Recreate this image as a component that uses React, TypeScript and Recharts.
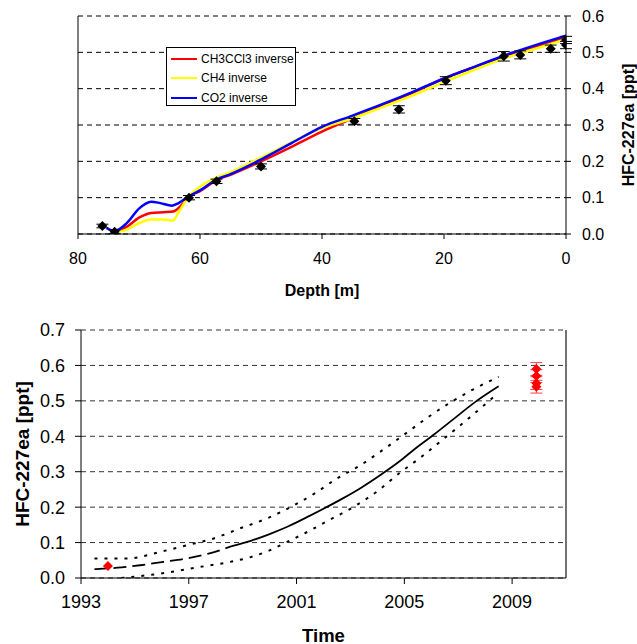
import {
	ComposedChart,
	CartesianGrid,
	ErrorBar,
	Legend,
	Line,
	ReferenceLine,
	Scatter,
	XAxis,
	YAxis,
} from 'recharts';

const FONT = '"Liberation Sans", Arial, sans-serif';

// top panel: firn inversions vs depth
const depthTicks = [0, 20, 40, 60, 80];
const concTicksTop = [0, 0.1, 0.2, 0.3, 0.4, 0.5, 0.6];

const ch3ccl3Line = [
	{ depth: 74, v: 0.006 },
	{ depth: 72, v: 0.02 },
	{ depth: 70, v: 0.045 },
	{ depth: 68, v: 0.058 },
	{ depth: 66, v: 0.06 },
	{ depth: 64.4, v: 0.062 },
	{ depth: 63, v: 0.08 },
	{ depth: 62, v: 0.1 },
	{ depth: 60, v: 0.118 },
	{ depth: 57.3, v: 0.148 },
	{ depth: 55, v: 0.163 },
	{ depth: 50, v: 0.2 },
	{ depth: 45, v: 0.24 },
	{ depth: 40, v: 0.282 },
	{ depth: 35, v: 0.318 },
	{ depth: 30, v: 0.355 },
	{ depth: 25, v: 0.39 },
	{ depth: 20, v: 0.428 },
	{ depth: 15, v: 0.46 },
	{ depth: 10, v: 0.49 },
	{ depth: 5, v: 0.515 },
	{ depth: 0, v: 0.54 },
];

const ch4Line = [
	{ depth: 74, v: 0.004 },
	{ depth: 72, v: 0.012 },
	{ depth: 70, v: 0.03 },
	{ depth: 68, v: 0.04 },
	{ depth: 66, v: 0.04 },
	{ depth: 64.4, v: 0.037 },
	{ depth: 63.5, v: 0.06 },
	{ depth: 62, v: 0.1 },
	{ depth: 60, v: 0.13 },
	{ depth: 57.3, v: 0.155 },
	{ depth: 55, v: 0.17 },
	{ depth: 50, v: 0.21 },
	{ depth: 45, v: 0.252 },
	{ depth: 40, v: 0.292 },
	{ depth: 35, v: 0.318 },
	{ depth: 30, v: 0.35 },
	{ depth: 25, v: 0.382 },
	{ depth: 20, v: 0.418 },
	{ depth: 15, v: 0.452 },
	{ depth: 10, v: 0.484 },
	{ depth: 5, v: 0.51 },
	{ depth: 0, v: 0.536 },
];

const co2Line = [
	{ depth: 75.3, v: 0.016 },
	{ depth: 74, v: 0.008 },
	{ depth: 72, v: 0.03 },
	{ depth: 70, v: 0.07 },
	{ depth: 68, v: 0.089 },
	{ depth: 66.5, v: 0.085 },
	{ depth: 64.6, v: 0.078 },
	{ depth: 63.5, v: 0.085 },
	{ depth: 62, v: 0.102 },
	{ depth: 60, v: 0.12 },
	{ depth: 57.3, v: 0.15 },
	{ depth: 55, v: 0.165 },
	{ depth: 50, v: 0.205 },
	{ depth: 45, v: 0.25 },
	{ depth: 40, v: 0.295 },
	{ depth: 35, v: 0.326 },
	{ depth: 30, v: 0.358 },
	{ depth: 25, v: 0.392 },
	{ depth: 20, v: 0.428 },
	{ depth: 15, v: 0.46 },
	{ depth: 10, v: 0.492 },
	{ depth: 5, v: 0.52 },
	{ depth: 0, v: 0.546 },
];

const firnSamples = [
	{ depth: 76, v: 0.022, err: 0.005 },
	{ depth: 74, v: 0.006, err: 0.005 },
	{ depth: 61.8, v: 0.1, err: 0.006 },
	{ depth: 57.3, v: 0.145, err: 0.006 },
	{ depth: 50, v: 0.186, err: 0.007 },
	{ depth: 34.7, v: 0.31, err: 0.008 },
	{ depth: 27.4, v: 0.343, err: 0.01 },
	{ depth: 19.7, v: 0.422, err: 0.011 },
	{ depth: 10.2, v: 0.489, err: 0.013 },
	{ depth: 7.5, v: 0.493, err: 0.011 },
	{ depth: 2.5, v: 0.51, err: 0.01 },
	{ depth: 0, v: 0.534, err: 0.01 },
	{ depth: 0, v: 0.52, err: 0.01 },
];

// bottom panel: reconstructed history vs time
const yearTicks = [1993, 1997, 2001, 2005, 2009];
const concTicksBottom = [0, 0.1, 0.2, 0.3, 0.4, 0.5, 0.6, 0.7];

const bestEarly = [
	{ t: 1993.5, v: 0.025 },
	{ t: 1994.5, v: 0.03 },
	{ t: 1995.2, v: 0.036 },
	{ t: 1996, v: 0.045 },
	{ t: 1996.9, v: 0.055 },
	{ t: 1997.7, v: 0.068 },
	{ t: 1998.6, v: 0.09 },
];

const bestLate = [
	{ t: 1998.6, v: 0.09 },
	{ t: 1999.3, v: 0.105 },
	{ t: 2000, v: 0.124 },
	{ t: 2000.7, v: 0.146 },
	{ t: 2001.5, v: 0.176 },
	{ t: 2002.7, v: 0.224 },
	{ t: 2003.4, v: 0.255 },
	{ t: 2004.1, v: 0.29 },
	{ t: 2004.8, v: 0.328 },
	{ t: 2005.4, v: 0.365 },
	{ t: 2006.1, v: 0.405 },
	{ t: 2006.8, v: 0.447 },
	{ t: 2007.6, v: 0.495 },
	{ t: 2008.5, v: 0.541 },
];

const upperBound = [
	{ t: 1993.5, v: 0.055 },
	{ t: 1994.7, v: 0.055 },
	{ t: 1995.9, v: 0.073 },
	{ t: 1996.9, v: 0.092 },
	{ t: 1997.9, v: 0.111 },
	{ t: 1998.9, v: 0.14 },
	{ t: 1999.9, v: 0.168 },
	{ t: 2000.9, v: 0.205 },
	{ t: 2001.7, v: 0.24 },
	{ t: 2002.5, v: 0.281 },
	{ t: 2003.3, v: 0.315 },
	{ t: 2004.1, v: 0.356 },
	{ t: 2005, v: 0.405 },
	{ t: 2005.9, v: 0.455 },
	{ t: 2006.7, v: 0.495 },
	{ t: 2007.5, v: 0.53 },
	{ t: 2008.5, v: 0.568 },
];

const lowerBound = [
	{ t: 1994.5, v: 0.0 },
	{ t: 1995.9, v: 0.012 },
	{ t: 1997.4, v: 0.031 },
	{ t: 1998.5, v: 0.045 },
	{ t: 1999.3, v: 0.059 },
	{ t: 2000, v: 0.078 },
	{ t: 2000.6, v: 0.1 },
	{ t: 2001.4, v: 0.13 },
	{ t: 2002.2, v: 0.163 },
	{ t: 2003.1, v: 0.2 },
	{ t: 2004, v: 0.245 },
	{ t: 2004.8, v: 0.295 },
	{ t: 2005.6, v: 0.34 },
	{ t: 2006.4, v: 0.389 },
	{ t: 2007.3, v: 0.445 },
	{ t: 2008.3, v: 0.51 },
];

const airSamples = [
	{ t: 1994, v: 0.034, err: 0 },
	{ t: 2009.9, v: 0.59, err: 0.018 },
	{ t: 2009.9, v: 0.57, err: 0.018 },
	{ t: 2009.9, v: 0.55, err: 0.018 },
	{ t: 2009.9, v: 0.54, err: 0.018 },
];

const tickTop = { fontSize: 16, fill: '#000', fontFamily: FONT };
const tickBottom = { fontSize: 18, fill: '#000', fontFamily: FONT };

function diamond(color: string, r: number) {
	return (props: any) => {
		const { cx, cy } = props;
		if (cx == null || cy == null) return <g />;
		return (
			<polygon
				points={`${cx},${cy - r} ${cx + r},${cy} ${cx},${cy + r} ${cx - r},${cy}`}
				fill={color}
			/>
		);
	};
}

function TopLegend({ payload }: any) {
	const items = (payload || []).filter(
		(p: any) => p.type !== 'none' && p.value !== 'v',
	);
	return (
		<div
			style={{
				border: '1px solid #000',
				background: '#fff',
				width: 130,
				height: 59,
				boxSizing: 'border-box',
				paddingTop: 1,
				fontFamily: FONT,
				fontSize: 12,
				whiteSpace: 'nowrap',
			}}
		>
			{items.map((p: any) => (
				<div
					key={p.value}
					style={{ display: 'flex', alignItems: 'center', height: 19.5 }}
				>
					<span
						style={{
							display: 'inline-block',
							width: 26,
							height: 2,
							background: p.color,
							marginLeft: 4,
							marginRight: 4,
						}}
					/>
					<span>{p.value}</span>
				</div>
			))}
		</div>
	);
}

function axisTitle(text: string, dy: number, size: number) {
	return ({ viewBox }: any) => (
		<text
			x={viewBox.x + viewBox.width / 2}
			y={viewBox.y + dy}
			textAnchor="middle"
			dominantBaseline="central"
			fontFamily={FONT}
			fontWeight="bold"
			fontSize={size}
		>
			{text}
		</text>
	);
}

function verticalTitle(text: string, x: number, size: number) {
	return ({ viewBox }: any) => {
		const cy = viewBox.y + viewBox.height / 2;
		return (
			<text
				x={x}
				y={cy}
				transform={`rotate(-90, ${x}, ${cy})`}
				textAnchor="middle"
				dominantBaseline="central"
				fontFamily={FONT}
				fontWeight="bold"
				fontSize={size}
			>
				{text}
			</text>
		);
	};
}

export default function App() {
	return (
		<div
			style={{
				position: 'absolute',
				left: 0,
				top: 0,
				width: 637,
				height: 644,
				background: '#fff',
			}}
		>
			<div style={{ position: 'absolute', left: 0, top: 0 }}>
				<ComposedChart
					width={637}
					height={310}
					margin={{ top: 16, right: 11, bottom: 36, left: 78 }}
				>
					<CartesianGrid
						vertical={false}
						stroke="#000"
						strokeDasharray="5 4"
					/>
					<XAxis
						type="number"
						dataKey="depth"
						domain={[0, 80]}
						reversed
						ticks={depthTicks}
						allowDataOverflow
						height={40}
						tick={tickTop}
						tickSize={5}
						tickMargin={14}
						stroke="#000"
						label={{ content: axisTitle('Depth [m]', 56, 16) }}
					/>
					<YAxis
						orientation="right"
						type="number"
						dataKey="v"
						domain={[0, 0.6]}
						ticks={concTicksTop}
						tickFormatter={(v: number) => v.toFixed(1)}
						allowDataOverflow
						width={60}
						tick={{ ...tickTop, textAnchor: 'start' }}
						tickSize={5}
						tickMargin={11}
						stroke="#000"
						label={{ content: verticalTitle('HFC-227ea [ppt]', 628, 16) }}
					/>
					<ReferenceLine x={80} stroke="#000" strokeWidth={1} />
					<Legend
						layout="vertical"
						align="center"
						verticalAlign="middle"
						content={<TopLegend />}
						wrapperStyle={{ left: 166, top: 47, width: 130 }}
					/>
					<Line
						data={ch3ccl3Line}
						dataKey="v"
						name="CH3CCl3 inverse"
						stroke="#ff0000"
						strokeWidth={2.5}
						type="monotone"
						dot={false}
						isAnimationActive={false}
					/>
					<Line
						data={ch4Line}
						dataKey="v"
						name="CH4 inverse"
						stroke="#ffff00"
						strokeWidth={2.5}
						type="monotone"
						dot={false}
						isAnimationActive={false}
					/>
					<Line
						data={co2Line}
						dataKey="v"
						name="CO2 inverse"
						stroke="#0000ff"
						strokeWidth={2.5}
						type="monotone"
						dot={false}
						isAnimationActive={false}
					/>
					<Scatter
						data={firnSamples}
						dataKey="v"
						legendType="none"
						shape={diamond('#000', 5)}
						isAnimationActive={false}
					>
						<ErrorBar
							dataKey="err"
							direction="y"
							width={6}
							stroke="#000"
							strokeWidth={1}
						/>
					</Scatter>
				</ComposedChart>
			</div>
			<div style={{ position: 'absolute', left: 0, top: 310 }}>
				<ComposedChart
					width={637}
					height={334}
					margin={{ top: 20, right: 71, bottom: 21, left: 21 }}
				>
					<CartesianGrid
						vertical={false}
						stroke="#333"
						strokeDasharray="5 4"
					/>
					<XAxis
						type="number"
						dataKey="t"
						domain={[1993, 2011]}
						ticks={yearTicks}
						allowDataOverflow
						height={45}
						tick={tickBottom}
						tickSize={6}
						tickMargin={11}
						stroke="#000"
						label={{ content: axisTitle('Time', 57, 18.5) }}
					/>
					<YAxis
						type="number"
						dataKey="v"
						domain={[0, 0.7]}
						ticks={concTicksBottom}
						tickFormatter={(v: number) => v.toFixed(1)}
						allowDataOverflow
						width={60}
						tick={tickBottom}
						tickSize={6}
						tickMargin={10}
						stroke="#000"
						label={{ content: verticalTitle('HFC-227ea [ppt]', 22, 19) }}
					/>
					<ReferenceLine x={2011} stroke="#444" strokeWidth={1.5} />
					<Line
						data={upperBound}
						dataKey="v"
						stroke="#000"
						strokeWidth={2}
						strokeDasharray="3 7"
						type="monotone"
						dot={false}
						isAnimationActive={false}
					/>
					<Line
						data={lowerBound}
						dataKey="v"
						stroke="#000"
						strokeWidth={2}
						strokeDasharray="3 7"
						type="monotone"
						dot={false}
						isAnimationActive={false}
					/>
					<Line
						data={bestEarly}
						dataKey="v"
						stroke="#000"
						strokeWidth={1.8}
						strokeDasharray="13 6"
						type="monotone"
						dot={false}
						isAnimationActive={false}
					/>
					<Line
						data={bestLate}
						dataKey="v"
						stroke="#000"
						strokeWidth={1.8}
						type="monotone"
						dot={false}
						isAnimationActive={false}
					/>
					<Scatter
						data={airSamples}
						dataKey="v"
						shape={diamond('#ff0000', 5)}
						isAnimationActive={false}
					>
						<ErrorBar
							dataKey="err"
							direction="y"
							width={6}
							stroke="#ff4040"
							strokeWidth={1}
						/>
					</Scatter>
				</ComposedChart>
			</div>
		</div>
	);
}
